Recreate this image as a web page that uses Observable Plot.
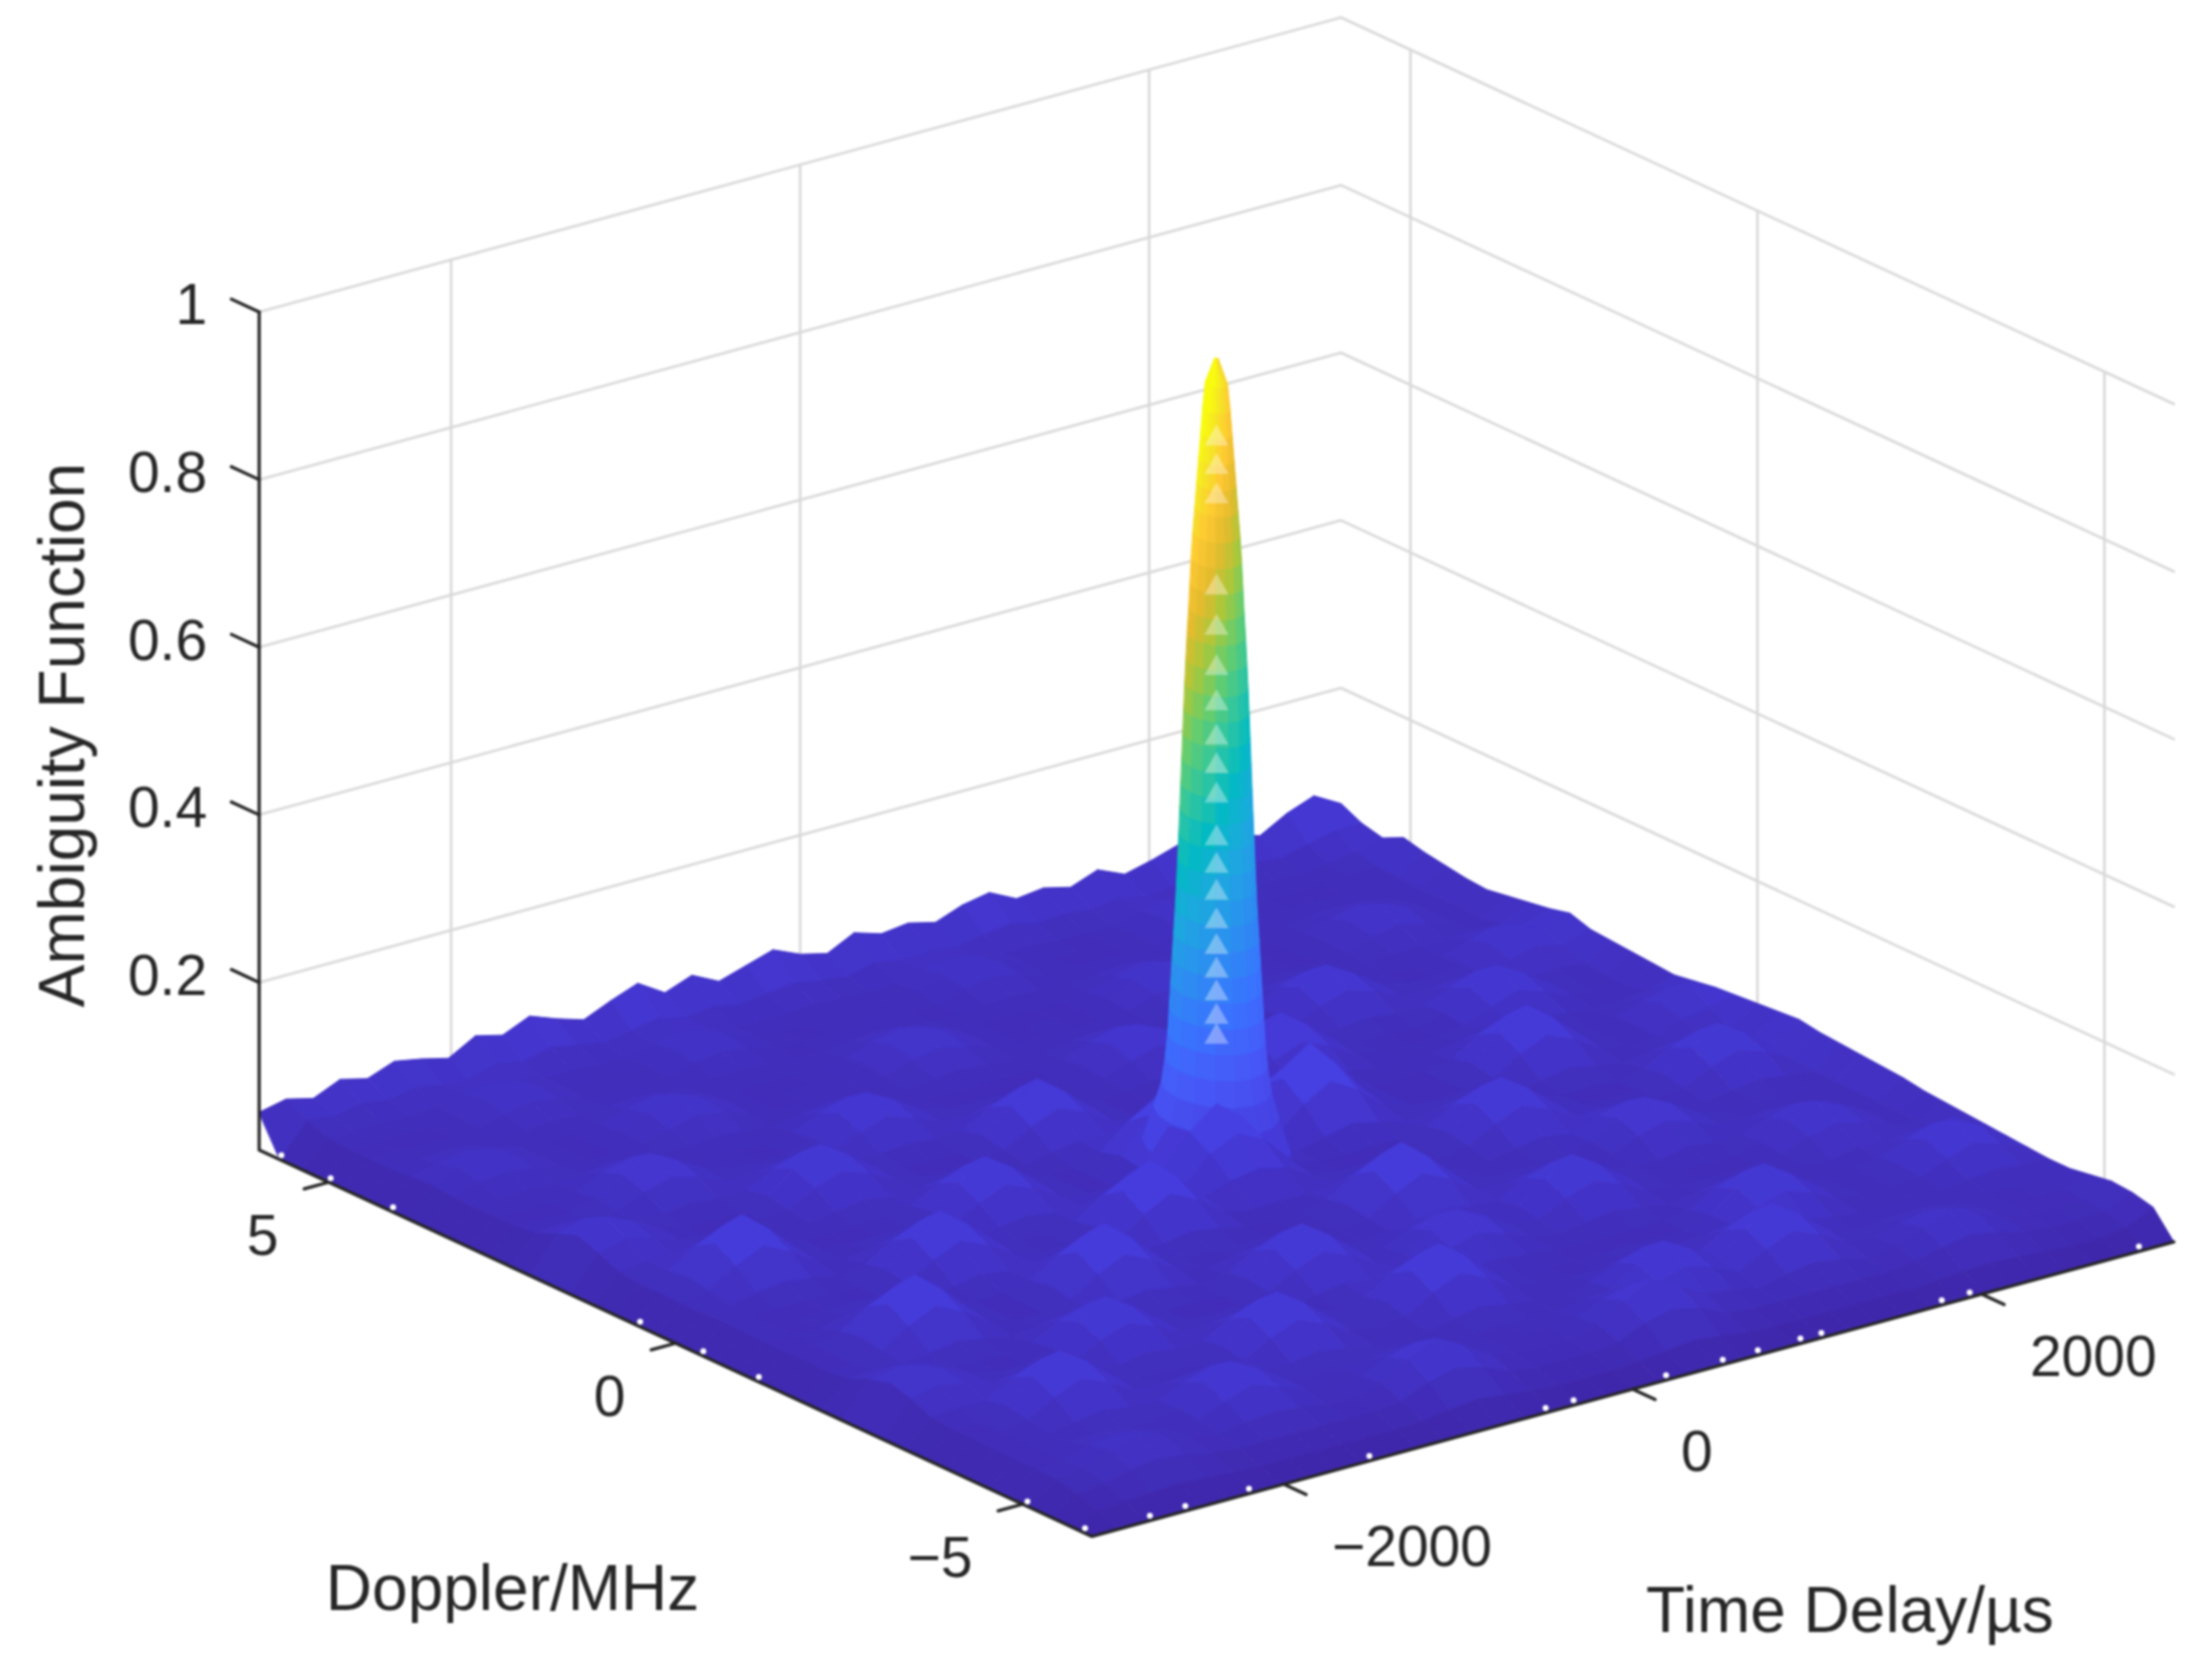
<!DOCTYPE html>
<html>
<head>
<meta charset="utf-8">
<script src="https://cdn.jsdelivr.net/npm/d3@7"></script>
<script src="https://cdn.jsdelivr.net/npm/@observablehq/plot@0.6"></script>
<style>
html,body{margin:0;padding:0;background:#fff}
#chart svg{display:block;filter:blur(1.2px)}
</style>
</head>
<body>
<div id="chart"></div>
<script>
// Axis ticks and labels
const delayTicks = [-2000, 0, 2000];
const delayTickLabels = ["\u22122000", "0", "2000"];
const dopplerTicks = [5, 0, -5];
const dopplerTickLabels = ["5", "0", "\u22125"];
const ampTicks = [0.2, 0.4, 0.6, 0.8, 1];
const ampTickLabels = ["0.2", "0.4", "0.6", "0.8", "1"];
const delayRange = [-3100, 3100];
const dopplerRange = [-6, 6];

// Surface height, thousandths. Rows run from doppler +6 to -6, columns from delay -3100 to +3100.
const sidelobes = [
[45, 52,44,58,50,62,56,48,66,58,72, 60,50,64,76,56,68,52,62,72,58, 50,66,56,60,52,64,70,54,58,50, 62,48,56,66,52,60,50,68,80,62],
[0, 38,34,40,36,42,36,34,44,38,46, 40,34,40,46,38,42,36,40,44,38, 34,42,36,38,34,40,44,36,38,34, 40,32,36,42,34,38,34,42,50,50],
[0, 28,26,28,28,30,36,41,36,30,30, 28,28,35,40,35,30,26,28,30,28, 26,28,36,41,36,28,30,26,26,26, 35,40,35,30,26,28,26,30,36,44],
[0, 26,25,27,26,30,41,50,41,30,27, 26,30,40,48,40,30,26,25,27,26, 25,30,41,50,41,30,26,25,26,30, 40,48,40,30,26,25,27,26,30,56],
[0, 26,27,25,26,28,36,41,36,28,26, 27,26,35,40,35,26,25,27,26,28, 26,25,36,41,36,26,27,26,25,26, 35,40,35,26,27,26,25,27,28,50],
[0, 26,28,30,28,26,28,30,28,29,32, 29,26,28,30,28,26,25,29,32,29, 26,25,28,30,28,26,29,32,29,26, 28,30,28,27,29,31,29,26,26,46],
[0, 28,36,41,36,28,26,27,29,39,46, 39,29,26,25,27,26,29,40,47,40, 29,26,27,25,26,29,39,46,39,29, 26,27,25,29,38,45,38,29,27,42],
[0, 30,41,50,41,30,26,25,32,46,58, 46,32,26,25,27,26,32,47,60,47, 32,26,25,27,26,32,46,58,46,32, 26,27,25,31,45,56,45,31,27,40],
[0, 27,36,40,36,29,25,27,29,38,46, 40,29,25,26,27,25,29,41,47,39, 30,25,27,26,25,29,40,46,38,29, 27,26,25,29,39,45,37,29,26,44],
[0, 26,28,30,28,30,34,30,26,29,32, 29,26,31,34,31,26,25,29,32,29, 26,25,30,33,30,26,29,32,29,31, 35,31,26,27,29,31,30,32,30,48],
[0, 26,25,27,30,44,53,44,30,26,27, 25,31,44,55,44,31,26,25,27,26, 25,30,42,51,42,30,26,27,31,46, 56,46,31,26,25,30,40,48,40,52],
[0, 27,25,26,34,53,70,53,34,27,25, 26,34,55,72,55,34,26,27,25,26, 27,33,51,66,51,33,26,25,35,56, 75,56,35,26,27,32,48,62,48,58],
[0, 30,33,30,30,44,53,44,30,31,36, 31,31,44,55,44,31,32,37,32,26, 27,30,42,51,42,32,37,32,31,46, 56,46,31,31,35,31,40,48,40,50],
[0, 41,50,41,30,30,34,30,31,48,59, 48,31,31,34,31,32,51,64,51,32, 26,27,30,33,32,51,64,51,32,31, 35,31,31,45,56,45,31,32,30,48],
[0, 50,64,50,33,26,25,27,36,59,80, 59,36,26,25,27,37,64,88,64,37, 26,25,27,26,37,64,88,64,37,26, 27,25,35,56,74,56,35,26,27,46],
[0, 41,50,41,30,26,25,27,31,48,59, 48,31,26,25,27,32,51,64,51,32, 26,25,27,26,32,51,64,51,32,27, 25,27,31,45,56,45,31,27,26,44],
[0, 30,33,33,38,33,26,27,26,31,36, 31,32,37,32,26,26,32,37,35,42, 35,26,27,35,42,35,37,32,26,27, 26,32,38,32,35,31,27,29,32,42],
[0, 26,33,54,69,54,33,27,26,25,27, 32,50,63,50,32,26,25,35,62,81, 62,35,35,62,81,62,35,26,25,27, 32,52,66,52,32,26,29,40,47,46],
[0, 27,38,69,95,69,38,26,25,27,26, 37,63,85,63,37,27,26,42,81,115, 81,42,42,81,115,81,42,26,27,25, 38,66,90,66,38,26,32,47,60,50],
[0, 26,33,54,69,54,33,27,32,38,32, 32,50,63,50,32,26,25,38,80,100, 80,46,35,62,81,62,35,26,25,27, 32,52,66,52,32,26,29,40,47,52],
[0, 26,27,33,38,33,26,32,52,66,52, 32,32,37,32,33,39,33,50,85,110, 85,50,27,35,42,35,26,32,37,32, 26,32,38,32,27,31,36,31,32,54],
[0, 27,25,26,27,26,25,38,66,90,66, 38,27,26,33,56,72,56,40,70,85, 70,36,26,25,27,26,32,50,63,50, 32,26,27,25,31,48,59,48,31,56],
[0, 26,27,25,26,27,26,32,52,66,52, 32,26,27,39,72,100,72,39,50,55, 48,30,26,27,25,26,37,63,85,63, 37,26,25,27,36,59,80,59,36,58],
[0, 26,27,25,33,38,33,27,32,38,32, 33,38,33,33,56,72,56,33,26,28, 27,33,38,33,26,25,32,50,63,50, 32,34,30,27,31,48,59,48,31,54],
[0, 26,25,33,54,69,54,33,26,27,33, 54,69,54,33,33,39,33,26,25,27, 33,54,69,54,33,26,26,32,37,32, 44,53,44,30,26,31,36,31,27,52],
[0, 27,26,38,69,95,69,38,25,26,38, 69,95,69,38,27,26,25,27,26,28, 38,69,95,69,38,26,27,25,26,34, 53,70,53,34,26,27,25,26,27,50],
[0, 26,25,33,54,69,54,33,26,27,33, 54,69,54,33,26,32,37,32,25,27, 33,54,69,54,33,31,36,31,26,30, 44,53,44,30,30,33,30,26,27,48],
[0, 29,32,29,33,38,33,26,31,36,31, 33,38,33,27,32,50,63,50,32,26, 30,34,38,33,31,48,59,48,31,30, 26,34,30,30,42,50,42,30,26,46],
[0, 40,47,40,29,26,25,31,48,59,48, 31,26,27,25,37,63,85,63,37,30, 44,53,44,30,36,59,80,59,36,26, 27,25,26,33,50,65,50,33,26,42],
[0, 47,60,47,32,26,25,36,59,80,59, 36,26,25,27,32,50,63,50,32,34, 53,70,53,34,31,48,59,48,31,27, 26,25,27,30,42,50,42,30,26,40],
[0, 40,47,40,32,37,32,31,48,59,48, 31,32,37,32,26,32,37,32,38,32, 44,53,44,30,26,31,36,31,26,31, 36,31,26,27,26,33,31,34,31,38],
[0, 29,32,32,50,63,50,32,31,36,31, 32,50,63,50,32,26,32,52,66,52, 32,34,30,27,26,25,26,27,31,48, 59,48,31,26,27,31,44,55,44,36],
[0, 26,25,37,63,85,63,37,26,27,25, 37,63,85,63,37,26,38,66,90,66, 38,26,27,25,26,27,25,26,36,59, 80,59,36,26,27,34,55,72,55,34],
[0, 26,25,32,50,63,50,32,31,34,31, 32,50,63,50,32,26,32,52,66,52, 32,26,27,25,31,35,31,32,37,48, 59,48,31,26,27,31,44,55,44,32],
[0, 25,26,27,32,37,32,31,44,55,44, 31,32,37,32,26,27,25,32,38,32, 26,25,31,46,56,46,32,50,63,50, 36,31,26,27,25,26,31,34,31,30],
[0, 25,26,28,30,28,26,34,55,72,55, 34,26,27,30,34,30,26,25,27,26, 25,30,35,56,75,56,37,63,85,63, 37,26,29,31,29,26,25,27,26,30],
[0, 25,26,36,41,36,26,31,44,55,44, 31,26,30,44,53,44,30,25,26,27, 30,44,53,46,56,46,32,50,63,50, 32,29,38,44,38,29,26,25,27,34],
[0, 24,30,41,50,41,30,25,31,34,31, 25,24,34,53,70,53,34,24,25,24, 34,53,70,53,35,31,24,32,37,32, 24,31,44,55,44,31,24,25,24,38],
[0, 18,22,30,34,30,22,20,20,20,20, 20,20,24,38,46,38,24,20,20,20, 24,38,46,38,24,20,20,20,20,20, 20,24,32,38,32,24,20,20,22,36],
[0, 10,12,14,16,14,12,10,10,10,10, 10,10,12,16,20,16,12,10,10,10, 12,16,20,16,12,10,10,10,10,10, 10,12,14,16,14,12,10,10,14,30],
[0, 0,0,0,0,0,0,0,0,0,0, 0,0,0,0,0,0,0,0,0,0, 0,0,0,0,0,0,0,0,0,0, 0,0,0,0,0,0,0,0,0,0]
];

// Main lobe profile: amplitude and half widths along each axis
const peakAmp = [0.06,0.10,0.13,0.16,0.19,0.22,0.25,0.28,0.31,0.34,0.37,0.40,0.43,0.46,0.49,0.52,0.55,0.58,0.61,0.64,0.67,0.70,0.73,0.76,0.79,0.82,0.85,0.88,0.91,0.94,0.97,1.00];
const peakHalfDelay = [300,254,223,207,197,191,185,179,173,166,161,156,152,148,144,140,136,132,128,123,118,112,107,102,95,87,79,71,63,55,45,6];
const peakHalfDoppler = [0.76,0.64,0.56,0.52,0.495,0.479,0.464,0.449,0.434,0.418,0.405,0.393,0.383,0.372,0.362,0.352,0.342,0.332,0.321,0.309,0.296,0.28,0.268,0.255,0.24,0.219,0.199,0.179,0.158,0.138,0.112,0.015];
const peakFacetColorShift = [0.10,0.08,0.05,0.02,-0.02,-0.05,-0.08,-0.10];
const peakHighlightAmp = [0.904,0.870,0.835,0.726,0.678,0.630,0.588,0.547,0.513,0.478,0.427,0.394,0.362,0.328,0.297,0.269,0.242,0.214,0.190];

// Small gaps along the front edges of the surface
const delayEdgeGaps = [-2768,-2565,-2200,-1510,-500,-340,190,515,716,960,1080,1770,1930,2900];
const dopplerEdgeGaps = [5.68,4.97,4.07,0.51,-0.4,-1.2,-5.07,-5.9];

const parulaStops = ["#3e26a8","#463cde","#4758f8","#3875fe","#2b91ef","#1ca9df","#02bac3","#31c69f","#64cd6f","#abc739","#e6bb2d","#fec932","#f5e526","#f9fb0e"];

// Oblique view of the data box on the plot's position scales
const view = {x0: 1216, y0: 1195.5, xDelay: 0.1745, xDoppler: -69.4, yDelay: -0.0475, yDoppler: -32.2, yAmp: -838};
const px = (t, f) => view.x0 + view.xDelay * t + view.xDoppler * f;
const py = (t, f, a) => view.y0 + view.yDelay * t + view.yDoppler * f + view.yAmp * a;

sidelobes.forEach((r, i) => { if (r.length !== 41) throw new Error("row " + i + " has " + r.length); });

const nRow = sidelobes.length, nCol = sidelobes[0].length;
const delayAt = c => delayRange[0] + (delayRange[1] - delayRange[0]) * c / (nCol - 1);
const dopplerAt = r => dopplerRange[1] - (dopplerRange[1] - dopplerRange[0]) * r / (nRow - 1);

// Facets in back-to-front order
const facets = [];
for (let r = 0; r < nRow - 1; r++) for (let c = 0; c < nCol - 1; c++) {
  const corners = [[r, c], [r, c + 1], [r + 1, c + 1], [r + 1, c]];
  const amps = corners.map(([i, j]) => sidelobes[i][j] / 1000);
  facets.push({
    depth: py(delayAt(c + 0.5), dopplerAt(r + 0.5), 0),
    value: d3.mean(amps),
    pts: corners.map(([i, j], k) => [delayAt(j), dopplerAt(i), amps[k]])
  });
}
const nf = peakFacetColorShift.length;
const phi = Math.atan2(Math.abs(view.xDoppler) * 0.5, view.xDelay * 195);
const ringPt = (l, s) => {
  const psi = -Math.PI + Math.PI * s / nf, th = psi - phi;
  return [peakHalfDelay[l] * Math.cos(th), peakHalfDoppler[l] * Math.sin(th), peakAmp[l]];
};
peakAmp.slice(0, -1).forEach((a, l) => {
  peakFacetColorShift.forEach((shift, s) => {
    facets.push({
      depth: py(0, 0, 0) + 0.001 * l,
      value: (a + peakAmp[l + 1]) / 2 + shift * Math.min(1, a / 0.5),
      pts: [ringPt(l, s), ringPt(l, s + 1), ringPt(l + 1, s + 1), ringPt(l + 1, s)]
    });
  });
});
facets.sort((a, b) => a.depth - b.depth);
const polygonRows = facets.flatMap((f, id) => f.pts.map(([t, fr, a]) => ({id, value: f.value, x: px(t, fr), y: py(t, fr, a)})));

// Box walls
const [tMin, tMax] = delayRange, [fMin, fMax] = dopplerRange;
const gridRows = [];
let gid = 0;
const addLine = (rows, pts) => { pts.forEach(([t, f, a]) => rows.push({id: gid, x: px(t, f), y: py(t, f, a)})); gid++; };
ampTicks.forEach(a => addLine(gridRows, [[tMin, fMax, a], [tMax, fMax, a], [tMax, fMin, a]]));
delayTicks.forEach(t => addLine(gridRows, [[t, fMax, 0], [t, fMax, 1]]));
dopplerTicks.forEach(f => addLine(gridRows, [[tMax, f, 0], [tMax, f, 1]]));

const axisRows = [];
addLine(axisRows, [[tMin, fMax, 1], [tMin, fMax, 0], [tMin, fMin, 0], [tMax, fMin, 0]]);
ampTicks.forEach(a => addLine(axisRows, [[tMin, fMax, a], [tMin, fMax + 0.4, a]]));
dopplerTicks.forEach(f => addLine(axisRows, [[tMin, f, 0], [tMin - 140, f, 0]]));
delayTicks.forEach(t => addLine(axisRows, [[t, fMin, 0], [t, fMin - 0.32, 0]]));

const ink = "#262626";
const textFont = {fontFamily: "'Liberation Sans', Arial, sans-serif", fill: ink};
const ampLabelRows = ampTicks.map((a, i) => ({x: px(tMin, fMax), y: py(tMin, fMax, a), t: ampTickLabels[i]}));
const dopplerLabelRows = dopplerTicks.map((f, i) => ({x: px(tMin, f), y: py(tMin, f, 0), t: dopplerTickLabels[i]}));
const delayLabelRows = delayTicks.map((t, i) => ({x: px(t, fMin), y: py(t, fMin, 0), t: delayTickLabels[i]}));

const chart = Plot.plot({
  width: 2208, height: 1665,
  marginTop: 0, marginRight: 0, marginBottom: 0, marginLeft: 0,
  style: {background: "#fff"},
  x: {domain: [0, 2208], range: [0, 2208], axis: null},
  y: {domain: [0, 1665], range: [0, 1665], axis: null},
  color: {type: "linear", domain: parulaStops.map((_, i) => i / (parulaStops.length - 1)), range: parulaStops, clamp: true},
  marks: [
    Plot.line(gridRows, {x: "x", y: "y", z: "id", stroke: "#d9d9d9", strokeWidth: 2.6}),
    Plot.line(polygonRows, {x: "x", y: "y", z: "id", fill: "value", stroke: "value", strokeWidth: 1, curve: "linear-closed"}),
    Plot.dot(peakHighlightAmp, {x: () => px(0, 0), y: a => py(0, 0, a), symbol: "triangle", r: 9, fill: "#fff", fillOpacity: 0.36, stroke: "none"}),
    Plot.line(axisRows, {x: "x", y: "y", z: "id", stroke: ink, strokeWidth: 3.2}),
    Plot.dot(delayEdgeGaps, {x: t => px(t, fMin), y: t => py(t, fMin, 0), dy: -5, r: 3, fill: "#fff", stroke: "none"}),
    Plot.dot(dopplerEdgeGaps, {x: f => px(tMin, f), y: f => py(tMin, f, 0), dy: -5, r: 3, fill: "#fff", stroke: "none"}),
    Plot.text(ampLabelRows, {x: "x", y: "y", text: "t", textAnchor: "end", dx: -52, dy: -6, fontSize: 57, ...textFont}),
    Plot.text(dopplerLabelRows, {x: "x", y: "y", text: "t", textAnchor: "end", dx: -50, dy: 54, fontSize: 57, ...textFont}),
    Plot.text(delayLabelRows, {x: "x", y: "y", text: "t", textAnchor: "start", dx: 48, dy: 64, fontSize: 57, ...textFont}),
    Plot.text(["Doppler/MHz"], {x: () => px(tMin, 0), y: () => py(tMin, 0, 0), text: d => d, dx: -163, dy: 246, fontSize: 64, ...textFont}),
    Plot.text(["Time Delay/\u00b5s"], {x: () => px(0, fMin), y: () => py(0, fMin, 0), text: d => d, dx: 217, dy: 222, fontSize: 64, ...textFont}),
    Plot.text(["Ambiguity Function"], {x: () => px(tMin, fMax), y: () => py(tMin, fMax, 0.5), text: d => d, dx: -196, dy: 4, rotate: -90, fontSize: 64, ...textFont})
  ]
});
document.getElementById("chart").append(chart);
</script>
</body>
</html>
